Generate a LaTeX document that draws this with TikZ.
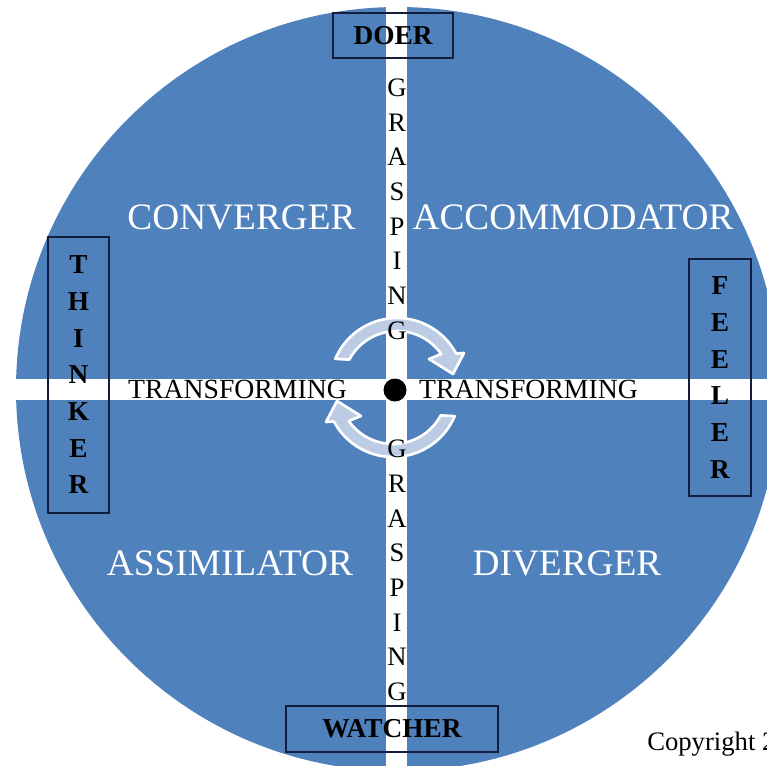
\documentclass[tikz,border=0pt]{standalone}
\usepackage{fontspec}
\setmainfont{Liberation Serif}
\usetikzlibrary{positioning,calc}
\definecolor{discblue}{RGB}{79,129,189}
\definecolor{turnblue}{RGB}{188,204,228}
\definecolor{boxnavy}{RGB}{20,30,60}

\begin{document}
\begin{tikzpicture}[
  x=0.75pt, y=-0.75pt,
  quadlbl/.style={text=white, inner sep=0pt, font=\fontsize{28}{30}\selectfont},
  axislbl/.style={inner sep=0pt, font=\fontsize{20.8}{24}\selectfont},
  stacklbl/.style={inner sep=0pt, align=center, font=\fontsize{20}{26}\selectfont},
  rolebox/.style={draw=boxnavy, line width=0.8pt, inner sep=0pt, align=center, font=\bfseries\fontsize{20.5}{27.5}\selectfont},
  turnarrow/.style={fill=turnblue, draw=white, line width=2pt, line join=round}
]
  \useasboundingbox (0,0) rectangle (767,765);
  \clip (0,0) rectangle (767,765);

  % disc and white cross
  \fill[discblue] (398,389) circle[radius=382];
  \fill[white] (386,0) rectangle (407,770);
  \fill[white] (0,379) rectangle (767,400);

  % turning arrows round the hub
  \foreach \cx/\cy/\ang in {397/385/0, 393/390/180}
    \filldraw[turnarrow, shift={(\cx,\cy)}, rotate=\ang]
      (-157:67) arc[start angle=-157, end angle=-28, radius=67]
      -- (67,-32) -- (56,-11) -- (32,-26) -- (-35:54)
      arc[start angle=-35, end angle=-152, radius=54] -- cycle;

  \node[circle, fill=black, inner sep=0pt, minimum size=17.25pt] (hub) at (395,390) {};

  % quadrant names
  \node[quadlbl] (conv) at (241.5,217) {CONVERGER};
  \node[quadlbl] (acco) at (573,217) {ACCOMMODATOR};
  \node[quadlbl] (assi) at (230,563) {ASSIMILATOR};
  \node[quadlbl] (dive) at (567,563) {DIVERGER};

  % axes
  \node[axislbl] (trl) at (237.5,389) {TRANSFORMING};
  \node[axislbl] (trr) at (528.5,389) {TRANSFORMING};
  \node[stacklbl] (grt) at (397,209) {G\\R\\A\\S\\P\\I\\N\\G};
  \node[stacklbl] (grb) at (397,570.5) {G\\R\\A\\S\\P\\I\\N\\G};

  % the four roles
  \node[rolebox, minimum width=90pt, minimum height=33.75pt] (doer) at (393,35.5) {DOER};
  \node[rolebox, minimum width=159pt, minimum height=34.5pt] (watch) at (392,729) {WATCHER};
  \node[rolebox, minimum width=45.75pt, minimum height=207pt] (think) at (78.5,375) {T\\H\\I\\N\\K\\E\\R};
  \node[rolebox, minimum width=46.5pt, minimum height=177.75pt] (feel) at (720,377.5) {F\\E\\E\\L\\E\\R};

  \node[anchor=base west, inner sep=0pt, font=\fontsize{20}{24}\selectfont] (copy) at (647,750) {Copyright 2};
\end{tikzpicture}
\end{document}
